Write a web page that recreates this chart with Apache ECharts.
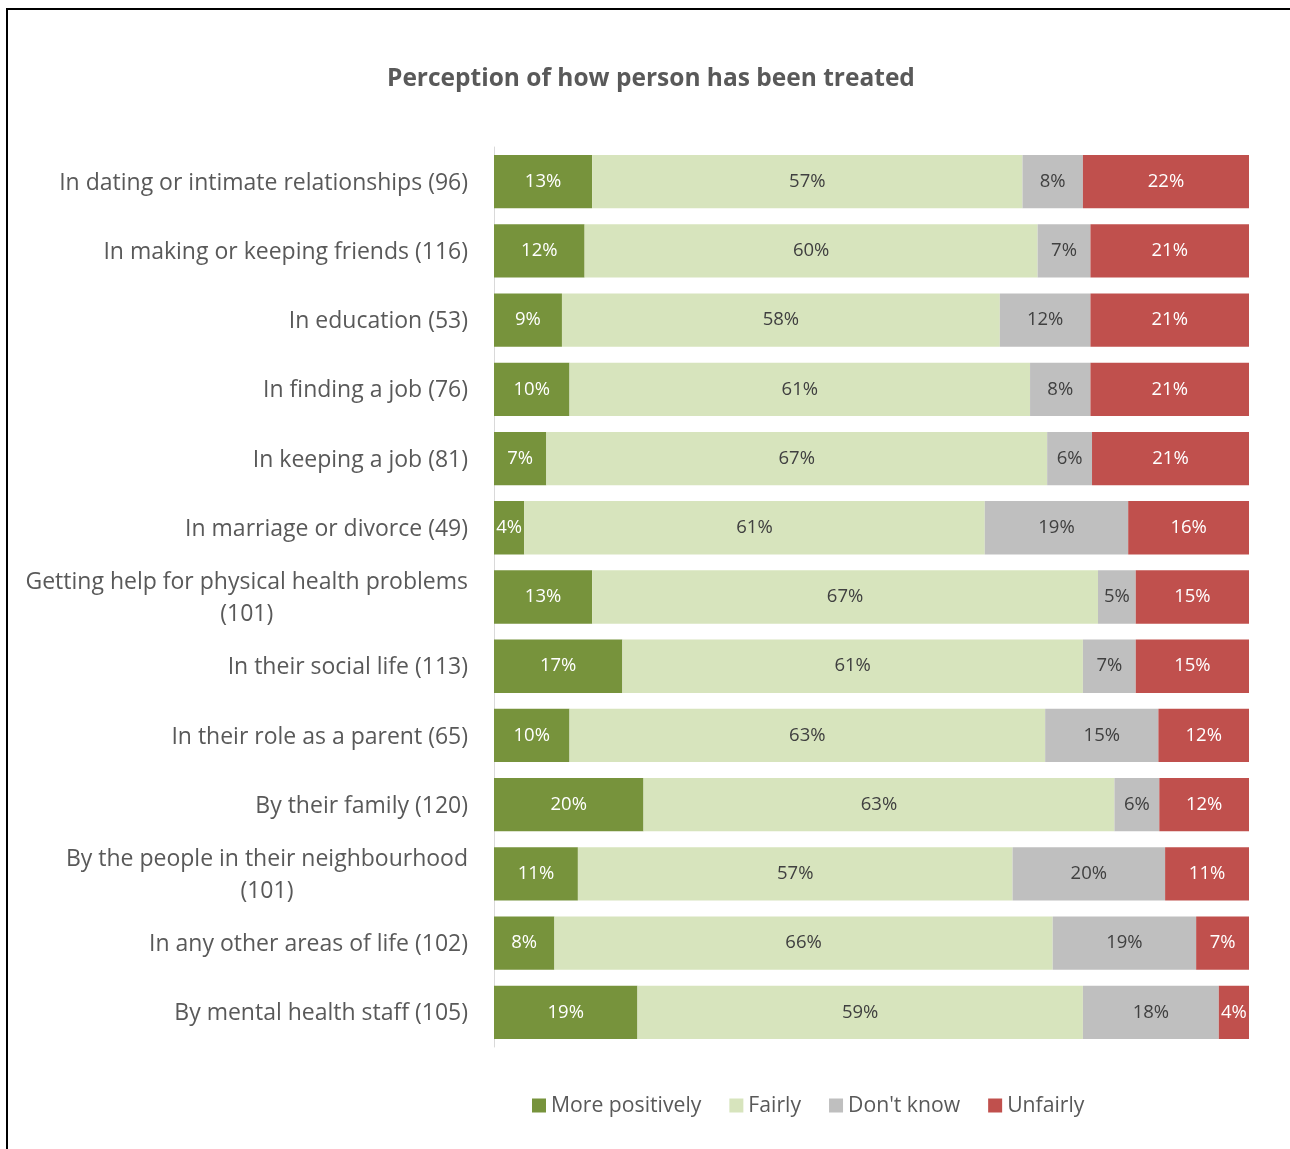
<!DOCTYPE html>
<html>
<head>
<meta charset="utf-8">
<script src="https://cdn.jsdelivr.net/npm/echarts@6/dist/echarts.min.js"></script>
<style>
  html, body { margin: 0; padding: 0; background: #fff; }
  #frame { position: absolute; left: 6px; top: 8px; width: 1300px; height: 1200px;
           border-left: 2px solid #000; border-top: 2px solid #000; box-sizing: border-box; }
  #chart { position: absolute; left: 0; top: 0; width: 1290px; height: 1149px; }
</style>
</head>
<body>
<div id="frame"></div>
<div id="chart"></div>
<script>
// Survey rows (respondent counts in brackets)
const categories = [
  'In dating or intimate relationships (96)',
  'In making or keeping friends (116)',
  'In education (53)',
  'In finding a job (76)',
  'In keeping a job (81)',
  'In marriage or divorce (49)',
  'Getting help for physical health problems\n(101)',
  'In their social life (113)',
  'In their role as a parent (65)',
  'By their family (120)',
  'By the people in their neighbourhood\n(101)',
  'In any other areas of life (102)',
  'By mental health staff (105)'
];

// Percentages per response
const morePositively = [13, 12, 9, 10, 7, 4, 13, 17, 10, 20, 11, 8, 19];
const fairly         = [57, 60, 58, 61, 67, 61, 67, 61, 63, 63, 57, 66, 59];
const dontKnow       = [8, 7, 12, 8, 6, 19, 5, 7, 15, 6, 20, 19, 18];
const unfairly       = [22, 21, 21, 21, 21, 16, 15, 15, 12, 12, 11, 7, 4];

const seriesNames  = ['More positively', 'Fairly', "Don't know", 'Unfairly'];
const seriesValues = [morePositively, fairly, dontKnow, unfairly];
const seriesColors = ['#77933C', '#D7E4BD', '#BFBFBF', '#C0504D'];
const labelColors  = ['#FFFFFF', '#404040', '#404040', '#FFFFFF'];

// 100% stacked: each row is scaled to its own total
const rowTotals = categories.map((_, i) =>
  seriesValues.reduce((s, arr) => s + arr[i], 0));

const FONT = 'Open Sans';

const chart = echarts.init(document.getElementById('chart'), null, { renderer: 'canvas' });

chart.setOption({
  backgroundColor: 'transparent',
  animation: false,
  textStyle: { fontFamily: FONT },
  title: {
    text: 'Perception of how person has been treated',
    left: 382,
    top: 62,
    textStyle: { fontFamily: FONT, fontSize: 24.5, fontWeight: 'bold', color: '#595959' }
  },
  legend: {
    bottom: 28,
    left: 527,
    icon: 'rect',
    itemWidth: 14,
    itemHeight: 14,
    itemGap: 28,
    textStyle: { fontFamily: FONT, fontSize: 21.2, color: '#595959' },
    data: seriesNames
  },
  grid: { left: 494, right: 41, top: 147, height: 900, containLabel: false },
  xAxis: {
    type: 'value',
    min: 0,
    max: 100,
    show: false,
    splitLine: { show: false }
  },
  yAxis: {
    type: 'category',
    data: categories,
    inverse: true,
    axisLine: { show: true, lineStyle: { color: '#D9D9D9', width: 1 } },
    axisTick: { show: false },
    axisLabel: {
      margin: 26,
      color: '#595959',
      fontFamily: FONT,
      fontSize: 23,
      lineHeight: 32,
      padding: [3, 0, 0, 0],
      formatter: (v) => v.split('\n').map(s => '{c|' + s + '}').join('\n'),
      rich: {
        c: { align: 'center', fontFamily: FONT, fontSize: 23, lineHeight: 32, color: '#595959' }
      }
    }
  },
  series: seriesNames.map((name, k) => ({
    name,
    type: 'bar',
    stack: 'total',
    barCategoryGap: '23%',
    itemStyle: { color: seriesColors[k] },
    label: {
      show: true,
      position: 'inside',
      color: labelColors[k],
      fontFamily: FONT,
      fontSize: 18.5,
      formatter: (p) => seriesValues[k][p.dataIndex] + '%'
    },
    data: seriesValues[k].map((v, i) => v / rowTotals[i] * 100)
  }))
});
</script>
</body>
</html>
